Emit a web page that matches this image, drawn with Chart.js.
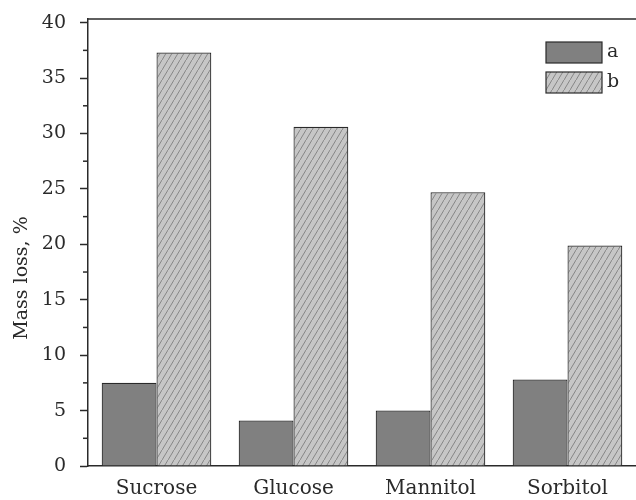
<!DOCTYPE html>
<html>
<head>
<meta charset="utf-8">
<script src="https://cdn.jsdelivr.net/npm/chart.js@4"></script>
<style>
  html, body { margin: 0; padding: 0; background: #fff; }
  #wrap { width: 636px; height: 500px; }
</style>
</head>
<body>
<div id="wrap"><canvas id="massChart" width="636" height="500"></canvas></div>
<script>
const categories = ["Sucrose", "Glucose", "Mannitol", "Sorbitol"];
const seriesA = [7.5, 4.1, 5.0, 7.8];
const seriesB = [37.3, 30.6, 24.7, 19.9];
const yTicks = [0, 5, 10, 15, 20, 25, 30, 35, 40];
const yMinorTicks = [2.5, 7.5, 12.5, 17.5, 22.5, 27.5, 32.5, 37.5];

const FONT = "'DejaVu Serif', serif";
const INK = "#2a2a2a";

// hatched fill for series b
function makeHatch() {
  const c = document.createElement("canvas");
  c.width = 6; c.height = 10;
  const g = c.getContext("2d");
  g.fillStyle = "#c6c6c6";
  g.fillRect(0, 0, 6, 10);
  g.strokeStyle = "#6a6a6a";
  g.lineWidth = 0.7;
  g.beginPath();
  g.moveTo(-6, 20); g.lineTo(12, -10);
  g.stroke();
  return g.createPattern(c, "repeat");
}
const hatch = makeHatch();

// frame top line, minor ticks, y title, legend
const extras = {
  id: "extras",
  afterDraw(chart) {
    const ctx = chart.ctx;
    const area = chart.chartArea;
    const y = chart.scales.y;
    ctx.save();
    ctx.strokeStyle = INK;
    ctx.lineWidth = 1.5;
    ctx.beginPath();
    ctx.moveTo(area.left, area.top);
    ctx.lineTo(chart.width, area.top);
    ctx.stroke();

    yMinorTicks.forEach(v => {
      const py = y.getPixelForValue(v);
      ctx.beginPath();
      ctx.moveTo(area.left - 5, py);
      ctx.lineTo(area.left, py);
      ctx.stroke();
    });

    ctx.fillStyle = INK;
    ctx.font = "19px " + FONT;
    ctx.textAlign = "center";
    ctx.textBaseline = "middle";
    ctx.translate(22, 278);
    ctx.rotate(-Math.PI / 2);
    ctx.fillText("Mass loss, %", 0, 0);
    ctx.restore();

    ctx.save();
    chart.data.datasets.forEach((ds, i) => {
      const bx = 546, by = 42 + i * 30, bw = 56, bh = 21;
      ctx.fillStyle = ds.backgroundColor;
      ctx.fillRect(bx, by, bw, bh);
      ctx.strokeStyle = INK;
      ctx.lineWidth = 1.2;
      ctx.strokeRect(bx, by, bw, bh);
      ctx.fillStyle = INK;
      ctx.font = "19px " + FONT;
      ctx.textAlign = "left";
      ctx.textBaseline = "middle";
      ctx.fillText(ds.label, bx + bw + 5, by + bh / 2);
    });
    ctx.restore();
  }
};

new Chart(document.getElementById("massChart"), {
  type: "bar",
  data: {
    labels: categories,
    datasets: [
      { label: "a", data: seriesA, backgroundColor: "#808080", borderColor: INK, borderWidth: 1.2 },
      { label: "b", data: seriesB, backgroundColor: hatch, borderColor: INK, borderWidth: 1.2 }
    ]
  },
  options: {
    responsive: false,
    animation: false,
    layout: { padding: { top: 19, right: 0, left: 0, bottom: 0 } },
    plugins: { legend: { display: false }, tooltip: { enabled: false } },
    datasets: { bar: { categoryPercentage: 0.8, barPercentage: 1.0 } },
    scales: {
      x: {
        grid: { display: false, drawTicks: false },
        border: { display: true, color: INK, width: 1.5 },
        ticks: { color: INK, font: { family: FONT, size: 20 }, padding: 11 },
        afterFit(s) { s.height = 34; s.paddingLeft = 0; s.paddingRight = 0; }
      },
      y: {
        min: 0,
        max: 40.33,
        grid: { drawOnChartArea: false, drawTicks: true, tickLength: 8, tickColor: INK, tickWidth: 1.5 },
        border: { display: true, color: INK, width: 1.5 },
        ticks: { color: INK, font: { family: FONT, size: 19 }, padding: 14 },
        afterBuildTicks(s) { s.ticks = yTicks.map(v => ({ value: v })); },
        afterFit(s) { s.width = 88; s.paddingTop = 0; s.paddingBottom = 0; }
      }
    }
  },
  plugins: [extras]
});
</script>
</body>
</html>
